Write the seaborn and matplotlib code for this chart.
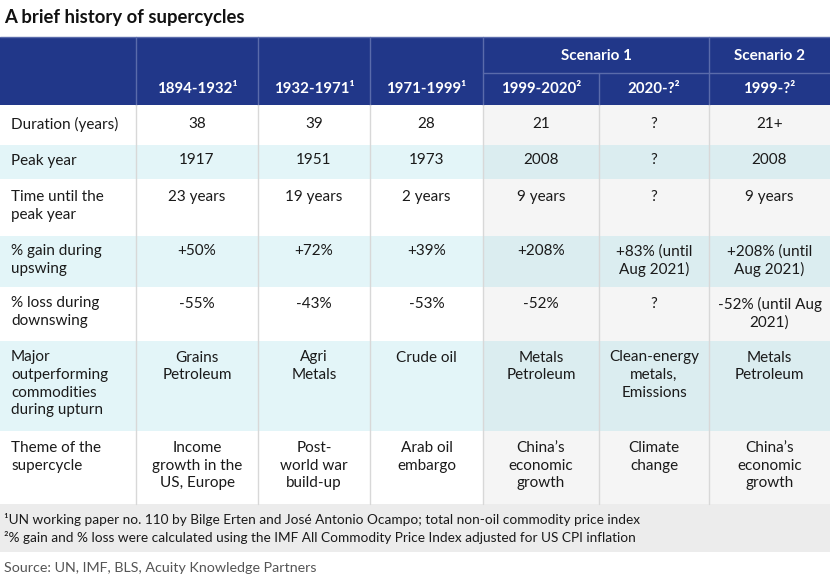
import matplotlib.pyplot as plt
import seaborn as sns
from matplotlib.patches import Rectangle

# Dữ liệu bảng
title = 'A brief history of supercycles'
periods = ['1894-1932¹', '1932-1971¹', '1971-1999¹', '1999-2020²', '2020-?²', '1999-?²']
scenarios = ['Scenario 1', 'Scenario 2']
row_labels = ['Duration (years)', 'Peak year', 'Time until the\npeak year',
              '% gain during\nupswing', '% loss during\ndownswing',
              'Major\noutperforming\ncommodities\nduring upturn', 'Theme of the\nsupercycle']

duration = ['38', '39', '28', '21', '?', '21+']
peak_year = ['1917', '1951', '1973', '2008', '?', '2008']
time_to_peak = ['23 years', '19 years', '2 years', '9 years', '?', '9 years']
gain = ['+50%', '+72%', '+39%', '+208%', '+83% (until\nAug 2021)', '+208% (until\nAug 2021)']
loss = ['-55%', '-43%', '-53%', '-52%', '?', '-52% (until Aug\n2021)']
commodities = ['Grains\nPetroleum', 'Agri\nMetals', 'Crude oil', 'Metals\nPetroleum',
               'Clean-energy\nmetals,\nEmissions', 'Metals\nPetroleum']
theme = ['Income\ngrowth in the\nUS, Europe', 'Post-\nworld war\nbuild-up', 'Arab oil\nembargo',
         'China’s\neconomic\ngrowth', 'Climate\nchange', 'China’s\neconomic\ngrowth']
rows = [duration, peak_year, time_to_peak, gain, loss, commodities, theme]

footnotes = ['¹UN working paper no. 110 by Bilge Erten and José Antonio Ocampo; total non-oil commodity price index',
             '²% gain and % loss were calculated using the IMF All Commodity Price Index adjusted for US CPI inflation']
source = 'Source: UN, IMF, BLS, Acuity Knowledge Partners'

# Bố cục (pixel)
W, H = 830, 584
col_edges = [0, 136, 258, 370, 483, 599, 709, 830]
head_top, head_mid, head_bot = 37, 73, 105
row_edges = [105, 145, 179, 236, 287, 341, 431, 504]
foot_bot = 552
line_h = 18

navy = '#213789'
navy_line = '#5a6bab'
cyan = '#e3f5f8'
cyan_scn = '#dbedf0'
grey_scn = '#f5f5f5'
txt = '#1a1a1a'
fs = 11

sns.set_theme(style='white')
plt.rcParams['font.family'] = ['Lato', 'DejaVu Sans']

fig = plt.figure(figsize=(8.3, 5.84), dpi=100)
ax = fig.add_axes([0, 0, 1, 1])
ax.set_xlim(0, W)
ax.set_ylim(H, 0)
ax.axis('off')

ax.text(4, 18, title, fontsize=13.3, fontweight='bold', color='#111111', va='center', ha='left')

# Header
ax.add_patch(Rectangle((0, head_top), W, head_bot - head_top, color=navy, lw=0))
ax.plot([0, W], [head_top, head_top], color=navy_line, lw=1)
for x in col_edges[1:-1]:
    y0 = head_mid if x == col_edges[5] else head_top
    ax.plot([x, x], [y0, head_bot], color=navy_line, lw=1)
ax.plot([col_edges[4], W], [head_mid, head_mid], color=navy_line, lw=1)
for j, p in enumerate(periods):
    xc = (col_edges[j + 1] + col_edges[j + 2]) / 2
    ax.text(xc, (head_mid + head_bot) / 2, p, color='white', fontsize=10.8,
            fontweight='bold', ha='center', va='center')
ax.text((col_edges[4] + col_edges[6]) / 2, (head_top + head_mid) / 2 + 1, scenarios[0],
        color='white', fontsize=11, fontweight='bold', ha='center', va='center')
ax.text((col_edges[6] + col_edges[7]) / 2, (head_top + head_mid) / 2 + 1, scenarios[1],
        color='white', fontsize=11, fontweight='bold', ha='center', va='center')

# Body
for i, (label, vals) in enumerate(zip(row_labels, rows)):
    y0, y1 = row_edges[i], row_edges[i + 1]
    shaded = i % 2 == 1
    for j in range(7):
        if j >= 4:
            c = cyan_scn if shaded else grey_scn
        else:
            c = cyan if shaded else 'white'
        ax.add_patch(Rectangle((col_edges[j], y0), col_edges[j + 1] - col_edges[j], y1 - y0,
                               color=c, lw=0))
    n = max(s.count('\n') + 1 for s in [label] + vals)
    top = (y0 + y1) / 2 - n * line_h / 2 + 0.5
    ax.text(11, top, label, fontsize=fs, color=txt, ha='left', va='top', linespacing=1.32)
    for j, v in enumerate(vals):
        xc = (col_edges[j + 1] + col_edges[j + 2]) / 2
        ax.text(xc, top, v, fontsize=fs, color=txt, ha='center', va='top', linespacing=1.32)

for x in col_edges[1:-1]:
    ax.plot([x, x], [row_edges[0], row_edges[-1]], color='#d8d8d8', lw=1)

# Footnotes
ax.add_patch(Rectangle((0, row_edges[-1]), W, foot_bot - row_edges[-1], color='#ececec', lw=0))
ax.text(4, 520, footnotes[0], fontsize=9.8, color=txt, ha='left', va='center')
ax.text(4, 538, footnotes[1], fontsize=9.8, color=txt, ha='left', va='center')
ax.text(4, 568, source, fontsize=10.3, color='#555555', ha='left', va='center')

plt.savefig('out.png', dpi=100)
plt.close()
